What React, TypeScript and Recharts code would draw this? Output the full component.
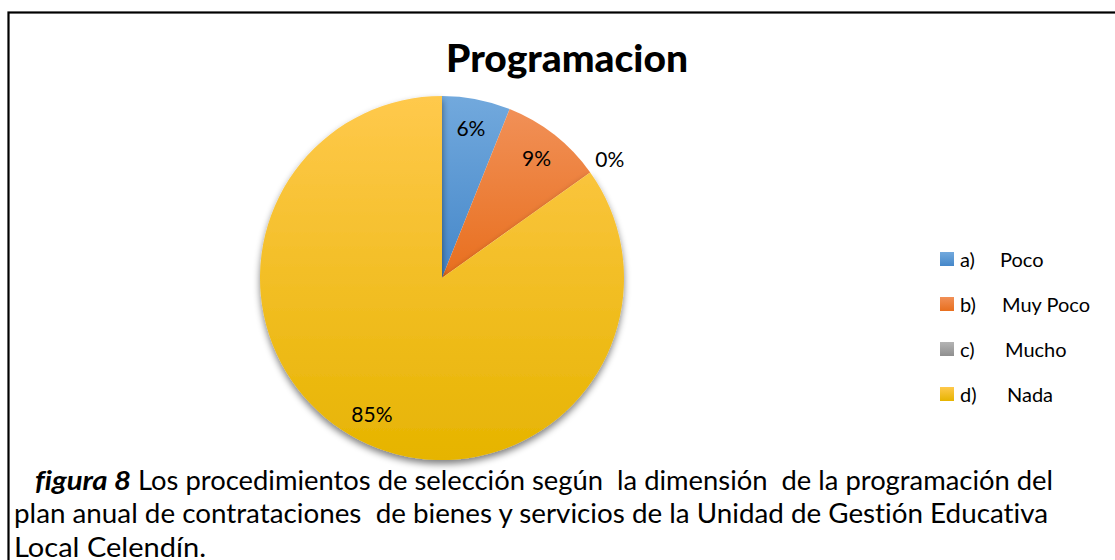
import React from 'react';
import { PieChart, Pie, Cell, Legend } from 'recharts';

const title = 'Programacion';
const prefixes = ['a)', 'b)', 'c)', 'd)'];
const names = ['Poco', 'Muy Poco', 'Mucho', 'Nada'];
const counts = [2, 3, 0, 28];
const topColors = ['#72A9DD', '#F19057', '#B4B4B4', '#FFC94C'];
const bottomColors = ['#4587C9', '#E86F1E', '#8F8F8F', '#E6B400'];
const captionBold = 'figura 8';
const captionLine1 = 'Los procedimientos de selección según  la dimensión  de la programación del';
const captionLine2 = 'plan anual de contrataciones  de bienes y servicios de la Unidad de Gestión Educativa';
const captionLine3 = 'Local Celendín.';

const data = counts.map((v, i) => ({ name: `${prefixes[i]} ${names[i]}`, prefix: prefixes[i], label: names[i], value: v }));

const RAD = Math.PI / 180;
const FONT = 'Lato, "Open Sans", sans-serif';

const renderLabel = (p: any) => {
  const { cx, cy, midAngle, outerRadius, percent } = p;
  const pct = Math.round(percent * 100);
  const r = pct === 0 ? outerRadius + 24 : outerRadius * 0.84;
  const x = cx + r * Math.cos(-midAngle * RAD);
  const y = cy + r * Math.sin(-midAngle * RAD);
  return (
    <text x={x} y={y} textAnchor="middle" dominantBaseline="central" fontFamily={FONT} fontSize={21} fill="#000" style={{ fontVariantLigatures: 'none' }}>
      {`${pct}%`}
    </text>
  );
};

const nameOffsets = [0, 2, 5, 7];

const renderLegend = () => (
  <div style={{ position: 'relative', width: 180, height: 180 }}>
    {data.map((d, i) => (
      <div key={d.name} style={{ position: 'absolute', left: 0, top: i * 45, height: 26, width: 180, fontFamily: FONT, fontSize: 20, color: '#000', lineHeight: '26px' }}>
        <svg width={14} height={14} style={{ position: 'absolute', left: 0, top: 6 }}>
          <rect x={0} y={0} width={14} height={14} fill={`url(#grad${i})`} />
        </svg>
        <span style={{ position: 'absolute', left: 20 }}>{d.prefix}</span>
        <span style={{ position: 'absolute', left: 60 + nameOffsets[i] }}>{d.label}</span>
      </div>
    ))}
  </div>
);

export default function App() {
  return (
    <div style={{ position: 'absolute', left: 0, top: 0, width: 1115, height: 560, overflow: 'hidden', background: '#fff', fontVariantLigatures: 'none' }}>
      <svg width={1115} height={560} style={{ position: 'absolute', left: 0, top: 0 }}>
        <rect x={8.5} y={12.5} width={1130} height={580} fill="#fff" stroke="#000" strokeWidth={2.2} />
        <text x={567} y={72} textAnchor="middle" fontFamily={FONT} fontWeight="900" fontSize={38} textLength={242} lengthAdjust="spacingAndGlyphs" fill="#000">{title}</text>
        <text x={35} y={490} fontFamily={FONT} fontWeight="bold" fontStyle="italic" fontSize={27} textLength={96} lengthAdjust="spacingAndGlyphs" fill="#000">{captionBold}</text>
        <text x={138} y={490} fontFamily={FONT} fontSize={27} textLength={915} lengthAdjust="spacingAndGlyphs" fill="#000" style={{ whiteSpace: 'pre' }}>{captionLine1}</text>
        <text x={14} y={523} fontFamily={FONT} fontSize={27} textLength={1034} lengthAdjust="spacingAndGlyphs" fill="#000" style={{ whiteSpace: 'pre' }}>{captionLine2}</text>
        <text x={14} y={557} fontFamily={FONT} fontSize={27} textLength={192} lengthAdjust="spacingAndGlyphs" fill="#000">{captionLine3}</text>
      </svg>
      <div style={{ position: 'absolute', left: 0, top: 0 }}>
        <PieChart width={1115} height={560} margin={{ top: 0, right: 0, bottom: 0, left: 0 }}>
          <defs>
            {topColors.map((c, i) => (
              <linearGradient key={i} id={`grad${i}`} x1="0" y1="0" x2="0" y2="1">
                <stop offset="0%" stopColor={c} />
                <stop offset="100%" stopColor={bottomColors[i]} />
              </linearGradient>
            ))}
            <filter id="pieShadow" x="-20%" y="-20%" width="140%" height="140%">
              <feGaussianBlur in="SourceAlpha" stdDeviation="3.5" />
              <feOffset dx="0" dy="4" result="ob" />
              <feComponentTransfer>
                <feFuncA type="linear" slope="0.5" />
              </feComponentTransfer>
              <feMerge>
                <feMergeNode />
                <feMergeNode in="SourceGraphic" />
              </feMerge>
            </filter>
          </defs>
          <Pie
            data={data}
            dataKey="value"
            nameKey="name"
            cx={442}
            cy={278}
            outerRadius={182}
            startAngle={90}
            endAngle={-270}
            stroke="none"
            label={renderLabel}
            labelLine={false}
            isAnimationActive={false}
          >
            {data.map((d, i) => (
              <Cell key={d.name} fill={`url(#grad${i})`} filter={i === data.length - 1 ? 'url(#pieShadow)' : undefined} />
            ))}
          </Pie>
          <Legend
            layout="vertical"
            align="right"
            verticalAlign="top"
            content={renderLegend}
            wrapperStyle={{ position: 'absolute', left: 940, top: 246, width: 180, height: 180 }}
          />
        </PieChart>
      </div>
    </div>
  );
}
